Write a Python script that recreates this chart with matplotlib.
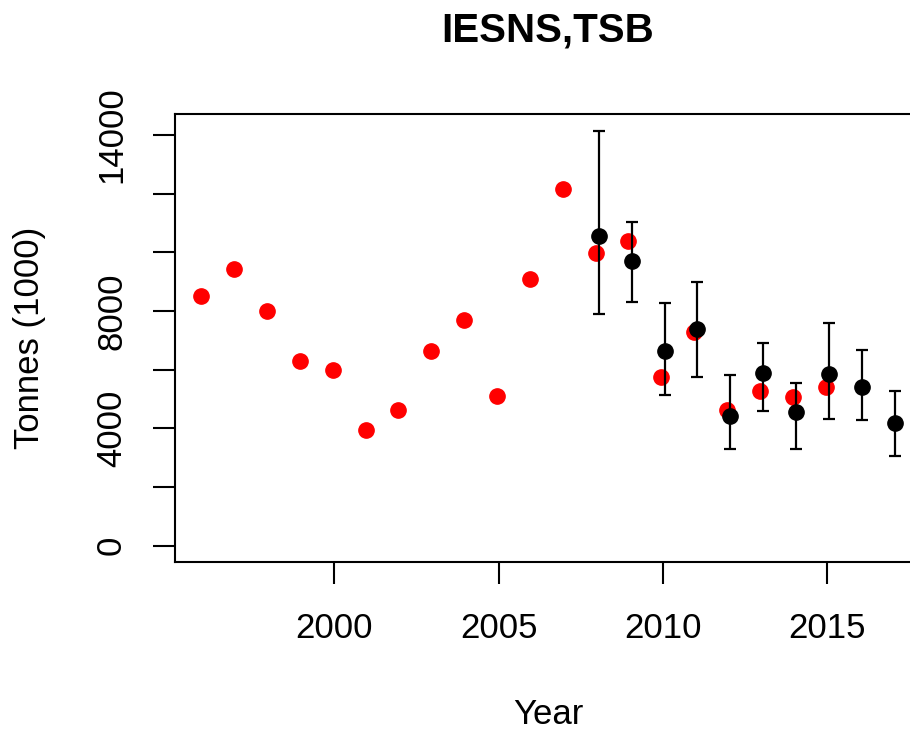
import numpy as np
import matplotlib
matplotlib.use("Agg")
import matplotlib.pyplot as plt

# -----------------------------
# DATA
# -----------------------------
red_years = [1996, 1997, 1998, 1999, 2000, 2001, 2002, 2003, 2004, 2005,
             2006, 2007, 2008, 2009, 2010, 2011, 2012, 2013, 2014, 2015]
red_tsb = [8520, 9430, 8000, 6285, 6000, 3930, 4625, 6650, 7680, 5110,
           9090, 12160, 9990, 10390, 5760, 7270, 4625, 5270, 5060, 5400]

black_years = [2008, 2009, 2010, 2011, 2012, 2013, 2014, 2015, 2016, 2017]
black_tsb = [10560, 9715, 6630, 7400, 4430, 5890, 4560, 5840, 5410, 4190]
black_low = [7890, 8320, 5140, 5740, 3300, 4580, 3310, 4330, 4275, 3070]
black_high = [14150, 11045, 8285, 9000, 5810, 6900, 5560, 7590, 6670, 5275]

xticks = [2000, 2005, 2010, 2015]
yticks = [0, 2000, 4000, 6000, 8000, 10000, 12000, 14000]
ytick_labels = ["0", "", "4000", "", "8000", "", "", "14000"]

# -----------------------------
# PLOT
# -----------------------------
plt.rcParams["font.family"] = ["Liberation Sans", "DejaVu Sans"]

fig = plt.figure(figsize=(9.1, 7.31), dpi=100)
ax = fig.add_axes([0.1926, 0.2308, 0.8191, 0.6133])

bx = np.array(black_years) + 0.05
rx = np.array(red_years) - 0.05
bt = np.array(black_tsb)
yerr = [bt - np.array(black_low), np.array(black_high) - bt]

ax.plot(rx, red_tsb, "o", color="#ff0000", markersize=11, zorder=2)
ax.errorbar(bx, bt, yerr=yerr, fmt="o", color="black", markersize=11,
            elinewidth=1.6, capsize=4.5, capthick=1.6, zorder=3)

ax.set_xlim(1995.16, 2017.84)
ax.set_ylim(-566, 14716)
ax.set_xticks(xticks)
ax.set_yticks(yticks)
ax.set_yticklabels(ytick_labels, rotation=90, va="center")

for s in ax.spines.values():
    s.set_linewidth(1.5)
ax.tick_params(length=16, width=1.5, labelsize=25)
ax.tick_params(axis="x", pad=20)
ax.tick_params(axis="y", pad=18)

ax.set_title("IESNS,TSB", fontsize=29, fontweight="bold", pad=52)
ax.set_xlabel("Year", fontsize=25, labelpad=38)
ax.set_ylabel("Tonnes (1000)", fontsize=25, labelpad=35)

fig.savefig("out.png", dpi=100)
